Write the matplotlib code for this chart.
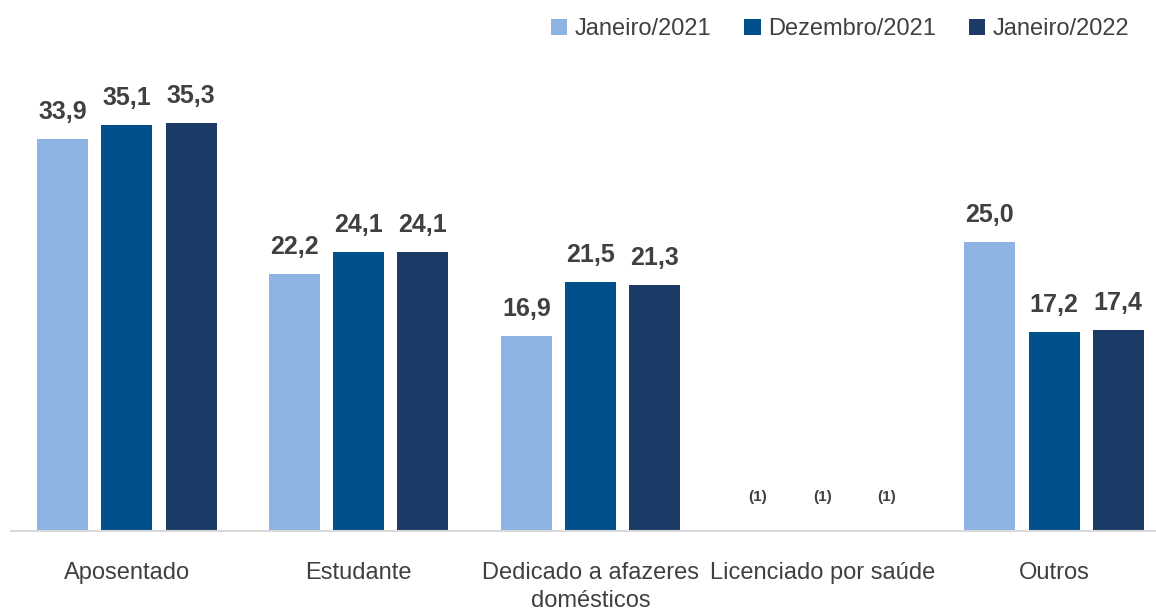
import matplotlib.pyplot as plt
import numpy as np

categories = ['Aposentado', 'Estudante', 'Dedicado a afazeres\ndomésticos',
              'Licenciado por saúde', 'Outros']
series = ['Janeiro/2021', 'Dezembro/2021', 'Janeiro/2022']
jan21 = [33.9, 22.2, 16.9, np.nan, 25.0]
dez21 = [35.1, 24.1, 21.5, np.nan, 17.2]
jan22 = [35.3, 24.1, 21.3, np.nan, 17.4]
colors = ['#8EB4E3', '#00508C', '#1B3A66']

plt.rcParams['font.family'] = ['Liberation Sans', 'DejaVu Sans']
txt = '#404040'

fig = plt.figure(figsize=(11.56, 6.11), dpi=100)
ax = fig.add_axes([11 / 1156, 80 / 611, 1159 / 1156, 0.757])
x = np.arange(len(categories))
w = 0.22
off = 0.277
for i, (vals, c, lab) in enumerate(zip([jan21, dez21, jan22], colors, series)):
    pos = x + (i - 1) * off
    v = np.nan_to_num(vals)
    ax.bar(pos, v, width=w, color=c, label=lab)
    for p, val in zip(pos, vals):
        if np.isnan(val):
            ax.text(p, 2.3, '(1)', ha='center', va='bottom', fontsize=11,
                    fontweight='bold', color=txt)
        else:
            ax.text(p, val + 1.3, f'{val:.1f}'.replace('.', ','), ha='center',
                    va='bottom', fontsize=18, fontweight='bold', color=txt)

ax.set_xlim(-0.5, 4.5)
ax.set_ylim(0, 40)
ax.set_yticks([])
ax.set_xticks(x)
ax.set_xticklabels(categories, fontsize=17, color=txt, linespacing=1.35)
ax.tick_params(axis='x', length=0, pad=22)
for s in ['top', 'right', 'left']:
    ax.spines[s].set_visible(False)
ax.spines['bottom'].set_color('#D9D9D9')
ax.spines['bottom'].set_linewidth(1.5)

fig.legend(loc='upper right', bbox_to_anchor=(0.995, 1.005), ncol=3, frameon=False,
           fontsize=17, handlelength=0.7, handleheight=0.7, handletextpad=0.3,
           columnspacing=1.4, labelcolor=txt)

fig.savefig('out.png', dpi=100)
